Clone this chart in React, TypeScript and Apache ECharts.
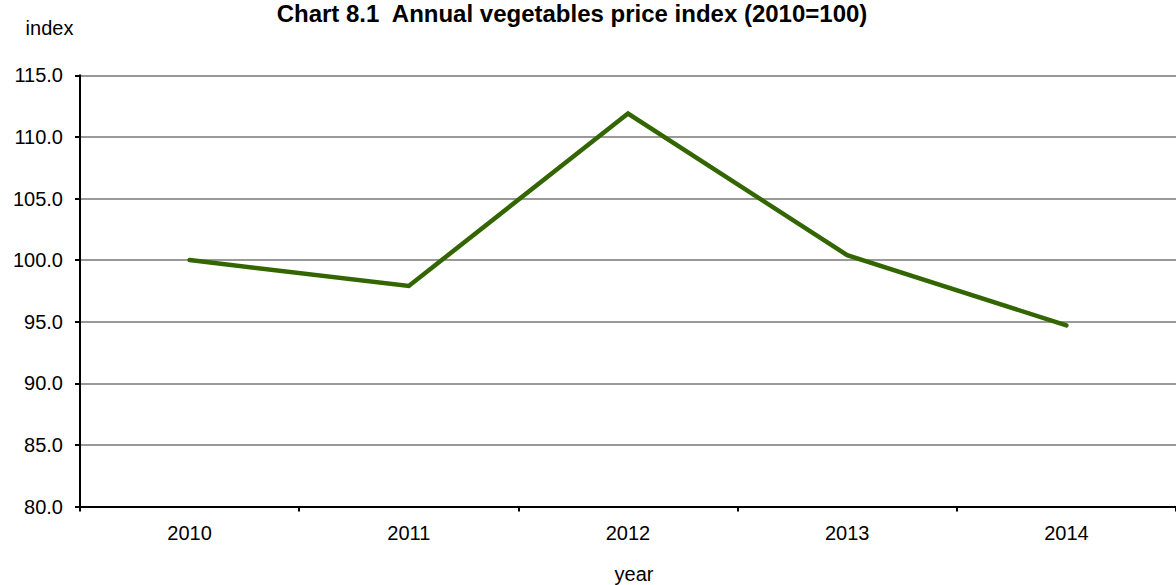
import React, { useEffect, useRef } from "react";
import * as echarts from "echarts";

const years = ["2010", "2011", "2012", "2013", "2014"];
const priceIndex = [100.0, 97.9, 111.9, 100.4, 94.7];
const titleText = "Chart 8.1  Annual vegetables price index (2010=100)";
const yAxisTitle = "index";
const xAxisTitle = "year";

const FONT = "'Liberation Sans', Arial, sans-serif";

export default function App() {
  const ref = useRef<HTMLDivElement>(null);
  useEffect(() => {
    if (!ref.current) return;
    const chart = echarts.init(ref.current, null, { renderer: "svg" });
    chart.setOption({
      animation: false,
      backgroundColor: "#ffffff",
      textStyle: { fontFamily: FONT },
      grid: { left: 80, top: 75.3, width: 1106, height: 431.2, containLabel: false },
      graphic: [
        {
          type: "text",
          x: 572,
          y: 13,
          style: {
            text: titleText,
            font: `bold 24px ${FONT}`,
            fill: "#000",
            align: "center",
            verticalAlign: "middle",
          },
        },
        {
          type: "text",
          x: 49.5,
          y: 28,
          style: {
            text: yAxisTitle,
            font: `20px ${FONT}`,
            fill: "#000",
            align: "center",
            verticalAlign: "middle",
          },
        },
        {
          type: "text",
          x: 634,
          y: 574,
          style: {
            text: xAxisTitle,
            font: `20px ${FONT}`,
            fill: "#000",
            align: "center",
            verticalAlign: "middle",
          },
        },
      ],
      xAxis: {
        type: "category",
        data: years,
        boundaryGap: true,
        axisLine: { show: true, lineStyle: { color: "#000", width: 2 } },
        axisTick: { show: true, length: 5, lineStyle: { color: "#000", width: 2 } },
        axisLabel: { color: "#000", fontSize: 20, fontFamily: FONT, margin: 16 },
        splitLine: { show: false },
      },
      yAxis: {
        type: "value",
        min: 80,
        max: 115,
        interval: 5,
        axisLine: { show: true, lineStyle: { color: "#000", width: 2 } },
        axisTick: { show: true, length: 5, lineStyle: { color: "#000", width: 2 } },
        axisLabel: {
          color: "#000",
          fontSize: 20,
          fontFamily: FONT,
          margin: 17,
          formatter: (v: number) => v.toFixed(1),
        },
        splitLine: { show: true, lineStyle: { color: "#999999", width: 2 } },
      },
      series: [
        {
          type: "line",
          data: priceIndex,
          showSymbol: false,
          symbol: "none",
          lineStyle: { color: "#336600", width: 4.5, cap: "round", join: "miter" },
          itemStyle: { color: "#336600" },
        },
      ],
    });
    return () => chart.dispose();
  }, []);
  return (
    <div
      ref={ref}
      style={{ position: "absolute", left: 0, top: 0, width: 1176, height: 585 }}
    />
  );
}
